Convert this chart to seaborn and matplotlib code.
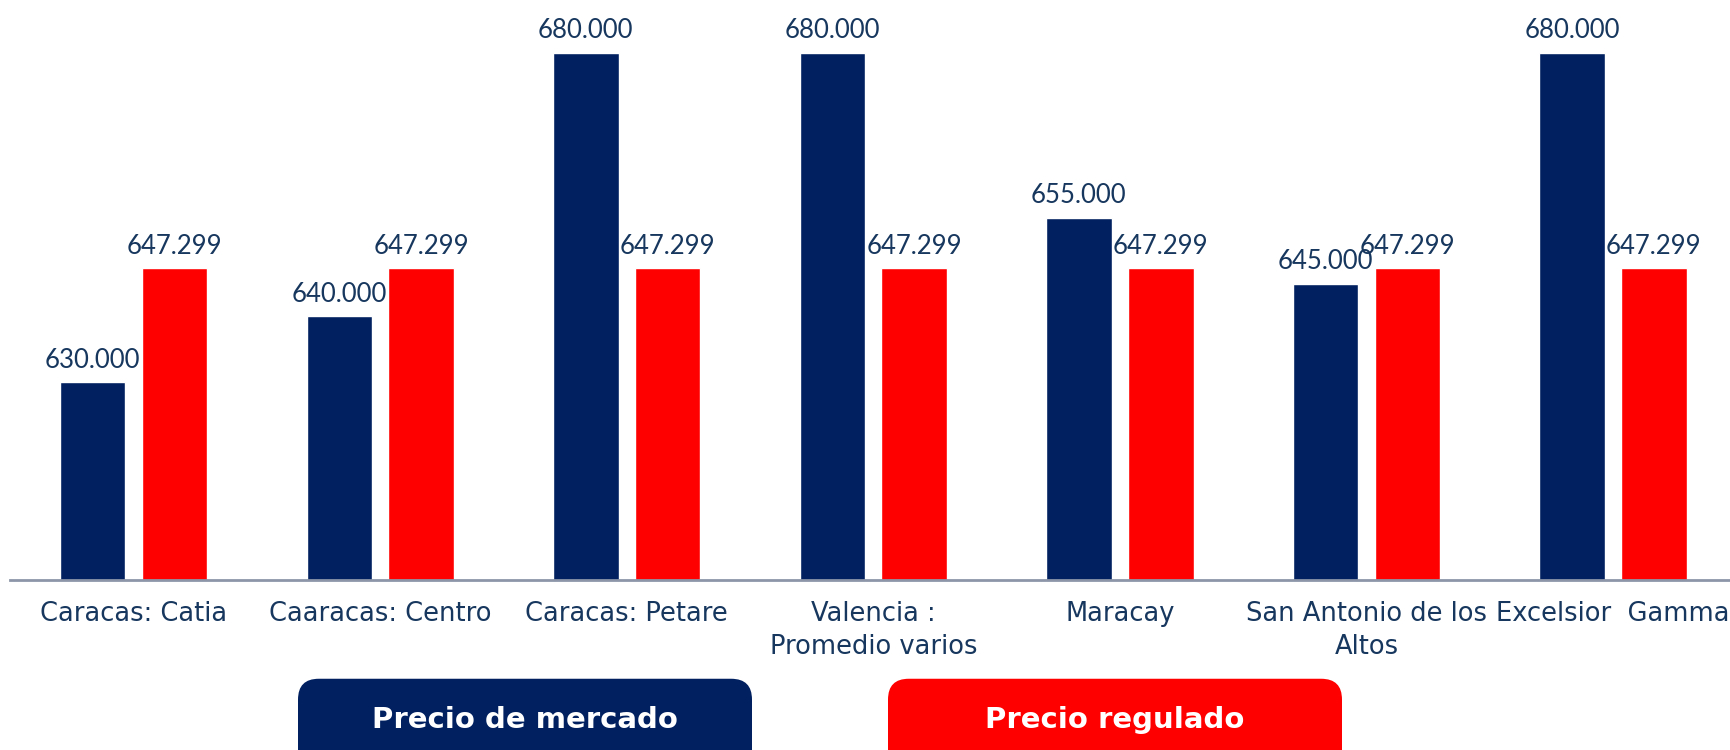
import pandas as pd
import matplotlib.pyplot as plt
import seaborn as sns
from matplotlib.patches import FancyBboxPatch

# data
ciudades = ["Caracas: Catia", "Caaracas: Centro", "Caracas: Petare",
            "Valencia :\nPromedio varios", "Maracay",
            "San Antonio de los\nAltos", "Excelsior  Gamma"]
precio_mercado = [630000, 640000, 680000, 680000, 655000, 645000, 680000]
precio_regulado = [647299, 647299, 647299, 647299, 647299, 647299, 647299]
series = ["Precio de mercado", "Precio regulado"]
colores = ["#002060", "#FF0000"]
texto_color = "#17375E"

df = pd.DataFrame({"ciudad": ciudades,
                   series[0]: precio_mercado,
                   series[1]: precio_regulado})
df = df.melt(id_vars="ciudad", var_name="serie", value_name="precio")

sns.set_style("white")
plt.rcParams["font.family"] = ["DejaVu Sans"]

fig = plt.figure(figsize=(17.31, 7.5), dpi=100)
ax = fig.add_axes([0.006, 0.2267, 0.997, 0.773])

sns.barplot(data=df, x="ciudad", y="precio", hue="serie",
            palette=dict(zip(series, colores)), width=0.664, gap=0.2,
            legend=False, ax=ax, saturation=1)

for cont in ax.containers:
    ax.bar_label(cont, fmt=lambda v: f"{v:,.0f}".replace(",", "."),
                 padding=7, fontsize=18.5, color=texto_color, family="Lato")

ax.set_ylim(600000, 688000)
ax.set_xlim(-0.5, 6.5)
ax.set_xlabel("")
ax.set_ylabel("")
ax.set_yticks([])
ax.tick_params(axis="x", length=0, pad=15, labelsize=18.5, colors=texto_color)
for lab in ax.get_xticklabels():
    lab.set_linespacing(1.38)
for s in ["top", "right", "left"]:
    ax.spines[s].set_visible(False)
ax.spines["bottom"].set_color("#8C96A8")
ax.spines["bottom"].set_linewidth(2)

# legend as two rounded boxes under the axis
for i, (nombre, col) in enumerate(zip(series, colores)):
    x0 = (298 + i * 590) / 1731
    caja = FancyBboxPatch((x0, -0.05), 454 / 1731, 0.145,
                          boxstyle="round,pad=0,rounding_size=0.012",
                          transform=fig.transFigure, facecolor=col,
                          edgecolor="none", mutation_aspect=1731 / 750)
    fig.patches.append(caja)
    fig.text(x0 + 227 / 1731, 0.04, nombre, ha="center", va="center",
             color="white", fontsize=21, fontweight="bold")

fig.savefig("out.png", dpi=100)
